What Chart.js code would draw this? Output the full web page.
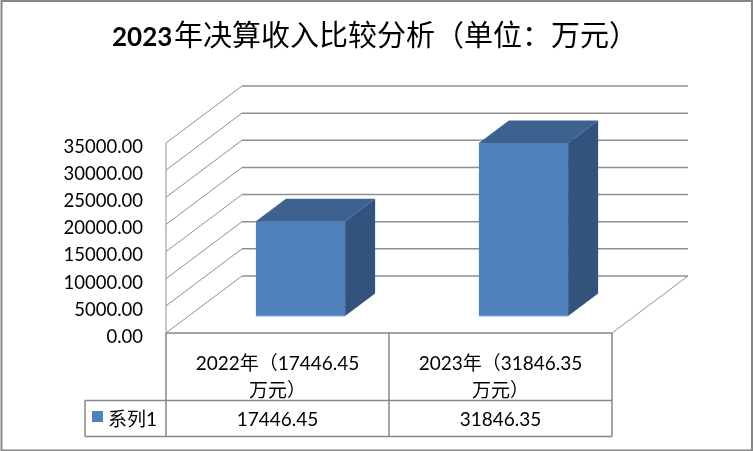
<!DOCTYPE html>
<html>
<head>
<meta charset="utf-8">
<style>
  html, body { margin: 0; padding: 0; background: #fff; }
  #wrap { width: 753px; height: 451px; }
</style>
<script src="https://cdn.jsdelivr.net/npm/chart.js@4"></script>
</head>
<body>
<div id="wrap"><canvas id="myChart" width="753" height="451"></canvas></div>
<script>
const categories = [["2022年（17446.45", "万元）"], ["2023年（31846.35", "万元）"]];
const seriesName = "系列1";
const seriesValues = [17446.45, 31846.35];
const titleYear = "2023";
const titleRest = "年决算收入比较分析（单位：万元）";

const fontFamily = "Lato, 'Noto Sans CJK SC', sans-serif";
const gridColor = "#8f8f8f";
const faceColor = "#4f81bd";
const topColor = "#3d6290";
const sideColor = "#31537c";

// depth of the floor and how far the bars sit back on it
const depthX = 76, depthY = 57;
const barOffX = 23, barOffY = 17;
const barDepthX = 30, barDepthY = 22.5;

function line(ctx, x1, y1, x2, y2) {
  ctx.beginPath();
  ctx.moveTo(x1, y1);
  ctx.lineTo(x2, y2);
  ctx.stroke();
}

// back wall and floor, drawn under the bars
const wallPlugin = {
  id: "wall",
  beforeDatasetsDraw(chart) {
    const { ctx, chartArea: a, scales: { y } } = chart;
    ctx.save();
    ctx.strokeStyle = gridColor;
    y.ticks.forEach(t => {
      const py = y.getPixelForValue(t.value);
      ctx.lineWidth = 1;
      line(ctx, a.left, py, a.left + depthX, py - depthY);
      ctx.lineWidth = 1.5;
      line(ctx, a.left + depthX, py - depthY, a.right + depthX, py - depthY);
    });
    ctx.lineWidth = 1;
    line(ctx, a.right, a.bottom, a.right + depthX, a.bottom - depthY);
    line(ctx, a.left, a.top, a.left, a.bottom);
    ctx.restore();
  },
  // shift the bars back onto the floor
  beforeDatasetDraw(chart) {
    chart.ctx.save();
    chart.ctx.translate(barOffX, -barOffY);
  },
  afterDatasetDraw(chart) {
    const ctx = chart.ctx;
    chart.getDatasetMeta(0).data.forEach(bar => {
      const l = bar.x - bar.width / 2, r = bar.x + bar.width / 2;
      ctx.fillStyle = topColor;
      ctx.beginPath();
      ctx.moveTo(l, bar.y);
      ctx.lineTo(l + barDepthX, bar.y - barDepthY);
      ctx.lineTo(r + barDepthX, bar.y - barDepthY);
      ctx.lineTo(r, bar.y);
      ctx.closePath();
      ctx.fill();
      ctx.fillStyle = sideColor;
      ctx.beginPath();
      ctx.moveTo(r, bar.y);
      ctx.lineTo(r + barDepthX, bar.y - barDepthY);
      ctx.lineTo(r + barDepthX, bar.base - barDepthY);
      ctx.lineTo(r, bar.base);
      ctx.closePath();
      ctx.fill();
      ctx.strokeStyle = "#8aaad4";
      ctx.lineWidth = 1;
      line(ctx, l, bar.base, r, bar.base);
    });
    ctx.restore();
  }
};

// title, data table under the plot and the frame round the chart
const tablePlugin = {
  id: "table",
  afterDraw(chart) {
    const { ctx, chartArea: a, scales: { x } } = chart;
    const mid = (x.getPixelForValue(0) + x.getPixelForValue(1)) / 2;
    const rowTop = 400.5, rowBottom = 436.5, legendLeft = 85;
    ctx.save();
    ctx.strokeStyle = "#868686";
    ctx.lineWidth = 2;
    ctx.strokeRect(1.5, 1, chart.width - 2.5, chart.height - 1.5);
    ctx.lineWidth = 1.5;
    line(ctx, a.left, a.bottom, a.right, a.bottom);
    line(ctx, a.left, a.bottom, a.left, rowBottom);
    line(ctx, mid, a.bottom, mid, rowBottom);
    line(ctx, a.right, a.bottom, a.right, rowBottom);
    line(ctx, legendLeft, rowTop, a.right, rowTop);
    line(ctx, legendLeft, rowBottom, a.right, rowBottom);
    line(ctx, legendLeft, rowTop, legendLeft, rowBottom);

    ctx.fillStyle = faceColor;
    ctx.fillRect(92, 411, 11, 11);
    ctx.fillStyle = "#000";
    ctx.font = "19px " + fontFamily;
    ctx.textBaseline = "middle";
    ctx.textAlign = "left";
    ctx.fillText(seriesName, 108, 420);
    ctx.textAlign = "center";
    seriesValues.forEach((v, i) => {
      ctx.fillText(v.toFixed(2), x.getPixelForValue(i), 420);
    });

    ctx.textAlign = "left";
    ctx.textBaseline = "alphabetic";
    ctx.font = "bold 26px " + fontFamily;
    ctx.fillText(titleYear, 112, 46);
    ctx.font = "29px " + fontFamily;
    ctx.fillText(titleRest, 174, 46);
    ctx.restore();
  }
};

new Chart("myChart", {
  type: "bar",
  data: {
    labels: categories,
    datasets: [{
      label: seriesName,
      data: seriesValues,
      backgroundColor: faceColor,
      barPercentage: 0.8,
      categoryPercentage: 0.5
    }]
  },
  options: {
    responsive: false,
    animation: false,
    layout: { padding: { left: 0, right: 141, top: 143, bottom: 49 } },
    plugins: {
      legend: { display: false },
      tooltip: { enabled: false }
    },
    scales: {
      x: {
        grid: { display: false },
        border: { display: false },
        ticks: { color: "#000", font: { family: fontFamily, size: 19, lineHeight: 1.4 }, padding: 10, maxRotation: 0 },
        afterFit(s) { s.height = 69; }
      },
      y: {
        min: 0,
        max: 35000,
        grid: { display: false, drawTicks: false },
        border: { display: false },
        ticks: {
          stepSize: 5000,
          padding: 23,
          color: "#000",
          // lineHeight with the empty first line drops the label just under its gridline
          font: { family: fontFamily, size: 18.5, lineHeight: 0.42 },
          callback: v => ["", v.toFixed(2)]
        },
        afterFit(s) { s.width = 166; }
      }
    }
  },
  plugins: [wallPlugin, tablePlugin]
});
</script>
</body>
</html>
